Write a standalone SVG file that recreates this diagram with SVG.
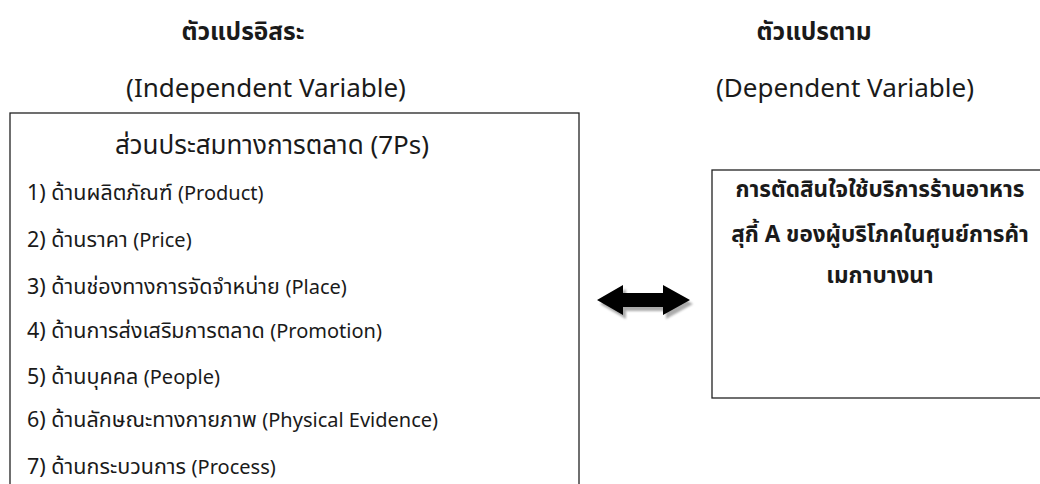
<svg xmlns="http://www.w3.org/2000/svg" width="1040" height="484" viewBox="0 0 1040 484">
<defs>
<style>
.t{font-family:"Noto Sans Thai","Noto Sans","DejaVu Sans",sans-serif;fill:#1a1a1a}
.h{font-size:24.5px;font-weight:bold;text-anchor:middle}
.e{font-size:26px;text-anchor:middle}
.s{font-size:26px;text-anchor:middle}
.i{font-size:21.5px}
.i tspan.en{font-size:20px}
.r{font-size:22.5px;font-weight:bold;text-anchor:middle}
.box{fill:#fff;stroke:#222;stroke-width:1.3}
</style>
<filter id="blur" x="-10%" y="-30%" width="120%" height="160%"><feGaussianBlur stdDeviation="1.2"/></filter>
</defs>
<rect width="1040" height="484" fill="#fff"/>
<g id="header-left">
<text class="t h" x="243" y="40">ตัวแปรอิสระ</text>
<text class="t e" x="266" y="97">(Independent Variable)</text>
</g>
<g id="header-right">
<text class="t h" x="814" y="40">ตัวแปรตาม</text>
<text class="t e" x="845" y="97">(Dependent Variable)</text>
</g>
<g id="independent">
<rect class="box" x="10" y="113" width="569" height="380"/>
<text class="t s" x="272" y="154">ส่วนประสมทางการตลาด (7Ps)</text>
<text class="t i" x="27" y="200">1) ด้านผลิตภัณฑ์ <tspan class="en">(Product)</tspan></text>
<text class="t i" x="27" y="247">2) ด้านราคา <tspan class="en">(Price)</tspan></text>
<text class="t i" x="27" y="294">3) ด้านช่องทางการจัดจำหน่าย <tspan class="en">(Place)</tspan></text>
<text class="t i" x="27" y="338">4) ด้านการส่งเสริมการตลาด <tspan class="en">(Promotion)</tspan></text>
<text class="t i" x="27" y="384">5) ด้านบุคคล <tspan class="en">(People)</tspan></text>
<text class="t i" x="27" y="427">6) ด้านลักษณะทางกายภาพ <tspan class="en">(Physical Evidence)</tspan></text>
<text class="t i" x="27" y="474">7) ด้านกระบวนการ <tspan class="en">(Process)</tspan></text>
</g>
<g id="dependent">
<rect class="box" x="712" y="170" width="340" height="228"/>
<text class="t r" x="880" y="197">การตัดสินใจใช้บริการร้านอาหาร</text>
<text class="t r" x="880" y="242">สุกี้ A ของผู้บริโภคในศูนย์การค้า</text>
<text class="t r" x="880" y="283">เมกาบางนา</text>
</g>
<g id="connectors">
<polygon points="600,304 626,289 626,297 666,297 666,289 693,304 666,319 666,311 626,311 626,319" fill="#888" opacity="0.7" filter="url(#blur)"/>
<polygon points="597,300 623,285 623,293 663,293 663,285 690,300 663,315 663,307 623,307 623,315" fill="#000"/>
</g>
</svg>
